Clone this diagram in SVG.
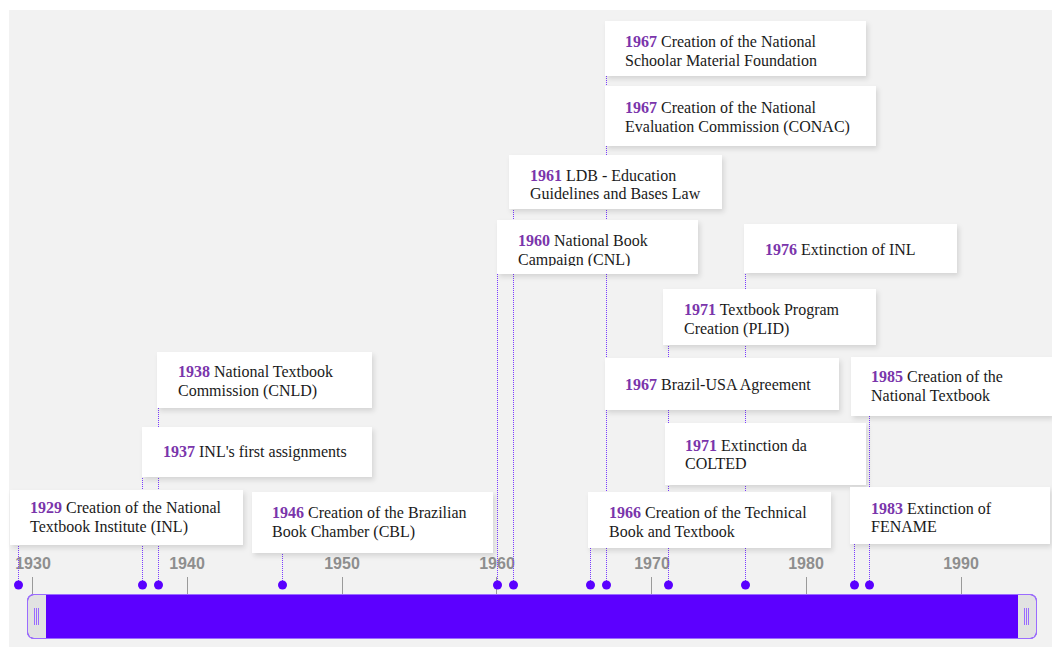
<svg xmlns="http://www.w3.org/2000/svg" width="1052" height="647" viewBox="0 0 1052 647">
<defs>
<filter id="sh" x="-10%" y="-20%" width="125%" height="150%">
<feDropShadow dx="2" dy="3" stdDeviation="2.5" flood-color="#000" flood-opacity="0.12"/>
</filter>
<clipPath id="c1960"><rect x="497" y="220" width="201" height="46"/></clipPath>
<style>
.card{fill:#fff;filter:url(#sh)}
.t{font-family:"Liberation Serif","Times New Roman",serif;font-size:16px;fill:#1a1a1a}
.y{font-weight:bold;fill:#7a35ab}
.ax{font-family:"Liberation Sans",Arial,sans-serif;font-size:16px;font-weight:bold;fill:#8e8e8e;text-anchor:middle}
.tick{stroke:#9a9a9a;stroke-width:1}
.ln{stroke:#7a3cff;stroke-width:1;stroke-dasharray:1 1;fill:none}
.dot{fill:#5a00ff}
.hl{stroke:#9a6bff;stroke-width:1}
</style>
</defs>
<rect x="9" y="10" width="1043" height="637" fill="#f2f2f2"/>

<g id="axis">
<line class="tick" x1="32.5" y1="577" x2="32.5" y2="594"/>
<line class="tick" x1="187.5" y1="577" x2="187.5" y2="594"/>
<line class="tick" x1="342.5" y1="577" x2="342.5" y2="594"/>
<line class="tick" x1="496.5" y1="577" x2="496.5" y2="594"/>
<line class="tick" x1="651.5" y1="577" x2="651.5" y2="594"/>
<line class="tick" x1="806.5" y1="577" x2="806.5" y2="594"/>
<line class="tick" x1="961.5" y1="577" x2="961.5" y2="594"/>
<text class="ax" x="33" y="569">1930</text>
<text class="ax" x="187" y="569">1940</text>
<text class="ax" x="342" y="569">1950</text>
<text class="ax" x="497" y="569">1960</text>
<text class="ax" x="652" y="569">1970</text>
<text class="ax" x="806" y="569">1980</text>
<text class="ax" x="961" y="569">1990</text>
</g>

<g id="connectors">
<line class="ln" x1="18.5" y1="585" x2="18.5" y2="490"/>
<line class="ln" x1="142.5" y1="585" x2="142.5" y2="427"/>
<line class="ln" x1="158.5" y1="585" x2="158.5" y2="352"/>
<line class="ln" x1="282.5" y1="585" x2="282.5" y2="492"/>
<line class="ln" x1="497.5" y1="585" x2="497.5" y2="220"/>
<line class="ln" x1="513.5" y1="585" x2="513.5" y2="155"/>
<line class="ln" x1="590.5" y1="585" x2="590.5" y2="492"/>
<line class="ln" x1="606.5" y1="585" x2="606.5" y2="21"/>
<line class="ln" x1="668.5" y1="585" x2="668.5" y2="289"/>
<line class="ln" x1="745.5" y1="585" x2="745.5" y2="224"/>
<line class="ln" x1="854.5" y1="585" x2="854.5" y2="487"/>
<line class="ln" x1="869.5" y1="585" x2="869.5" y2="357"/>
<circle class="dot" cx="18.5" cy="585" r="4.5"/>
<circle class="dot" cx="142.5" cy="585" r="4.5"/>
<circle class="dot" cx="158.5" cy="585" r="4.5"/>
<circle class="dot" cx="282.5" cy="585" r="4.5"/>
<circle class="dot" cx="497.5" cy="585" r="4.5"/>
<circle class="dot" cx="513.5" cy="585" r="4.5"/>
<circle class="dot" cx="590.5" cy="585" r="4.5"/>
<circle class="dot" cx="606.5" cy="585" r="4.5"/>
<circle class="dot" cx="668.5" cy="585" r="4.5"/>
<circle class="dot" cx="745.5" cy="585" r="4.5"/>
<circle class="dot" cx="854.5" cy="585" r="4.5"/>
<circle class="dot" cx="869.5" cy="585" r="4.5"/>
</g>

<g id="e1929"><rect class="card" x="10" y="490" width="233" height="55"/>
<text class="t" x="30" y="513"><tspan class="y">1929</tspan> Creation of the National</text>
<text class="t" x="30" y="532">Textbook Institute (INL)</text></g>

<g id="e1937"><rect class="card" x="142" y="427" width="230" height="50"/>
<text class="t" x="163" y="457"><tspan class="y">1937</tspan> INL's first assignments</text></g>

<g id="e1938"><rect class="card" x="157" y="352" width="215" height="56"/>
<text class="t" x="178" y="377"><tspan class="y">1938</tspan> National Textbook</text>
<text class="t" x="178" y="396">Commission (CNLD)</text></g>

<g id="e1946"><rect class="card" x="252" y="492" width="241" height="61"/>
<text class="t" x="272" y="518"><tspan class="y">1946</tspan> Creation of the Brazilian</text>
<text class="t" x="272" y="537">Book Chamber (CBL)</text></g>

<g id="e1960"><rect class="card" x="497" y="220" width="201" height="54"/>
<g clip-path="url(#c1960)">
<text class="t" x="518" y="246"><tspan class="y">1960</tspan> National Book</text>
<text class="t" x="518" y="265">Campaign (CNL)</text></g></g>

<g id="e1961"><rect class="card" x="509" y="155" width="213" height="54"/>
<text class="t" x="530" y="181"><tspan class="y">1961</tspan> LDB - Education</text>
<text class="t" x="530" y="199">Guidelines and Bases Law</text></g>

<g id="e1967a"><rect class="card" x="605" y="21" width="261" height="55"/>
<text class="t" x="625" y="47"><tspan class="y">1967</tspan> Creation of the National</text>
<text class="t" x="625" y="66">Schoolar Material Foundation</text></g>

<g id="e1967b"><rect class="card" x="605" y="86" width="271" height="60"/>
<text class="t" x="625" y="113"><tspan class="y">1967</tspan> Creation of the National</text>
<text class="t" x="625" y="132">Evaluation Commission (CONAC)</text></g>

<g id="e1976"><rect class="card" x="744" y="224" width="213" height="49"/>
<text class="t" x="765" y="255"><tspan class="y">1976</tspan> Extinction of INL</text></g>

<g id="e1971a"><rect class="card" x="663" y="289" width="213" height="56"/>
<text class="t" x="684" y="315"><tspan class="y">1971</tspan> Textbook Program</text>
<text class="t" x="684" y="334">Creation (PLID)</text></g>

<g id="e1967c"><rect class="card" x="605" y="358" width="234" height="52"/>
<text class="t" x="625" y="390"><tspan class="y">1967</tspan> Brazil-USA Agreement</text></g>

<g id="e1985"><rect class="card" x="851" y="357" width="201" height="59"/>
<text class="t" x="871" y="382"><tspan class="y">1985</tspan> Creation of the</text>
<text class="t" x="871" y="401">National Textbook</text></g>

<g id="e1971b"><rect class="card" x="665" y="423" width="201" height="62"/>
<text class="t" x="685" y="451"><tspan class="y">1971</tspan> Extinction da</text>
<text class="t" x="685" y="469">COLTED</text></g>

<g id="e1966"><rect class="card" x="588" y="492" width="243" height="56"/>
<text class="t" x="609" y="518"><tspan class="y">1966</tspan> Creation of the Technical</text>
<text class="t" x="609" y="537">Book and Textbook</text></g>

<g id="e1983"><rect class="card" x="850" y="487" width="200" height="57"/>
<text class="t" x="871" y="514"><tspan class="y">1983</tspan> Extinction of</text>
<text class="t" x="871" y="532">FENAME</text></g>

<g id="range">
<rect x="27.5" y="594.5" width="1009" height="44" rx="6" fill="#5c00ff" stroke="#9b6cff"/>
<path d="M46,595 H34 A6,6 0 0 0 28,601 V632 A6,6 0 0 0 34,638 H46 Z" fill="#e2e2e2"/>
<path d="M1018,595 H1030 A6,6 0 0 1 1036,601 V632 A6,6 0 0 1 1030,638 H1018 Z" fill="#e2e2e2"/>
<rect x="27.5" y="594.5" width="1009" height="44" rx="6" fill="none" stroke="#9b6cff"/>
<line class="hl" x1="34.5" y1="608" x2="34.5" y2="625"/>
<line class="hl" x1="36.5" y1="608" x2="36.5" y2="625"/>
<line class="hl" x1="38.5" y1="608" x2="38.5" y2="625"/>
<line class="hl" x1="1024.5" y1="608" x2="1024.5" y2="625"/>
<line class="hl" x1="1026.5" y1="608" x2="1026.5" y2="625"/>
<line class="hl" x1="1028.5" y1="608" x2="1028.5" y2="625"/>
</g>
</svg>
